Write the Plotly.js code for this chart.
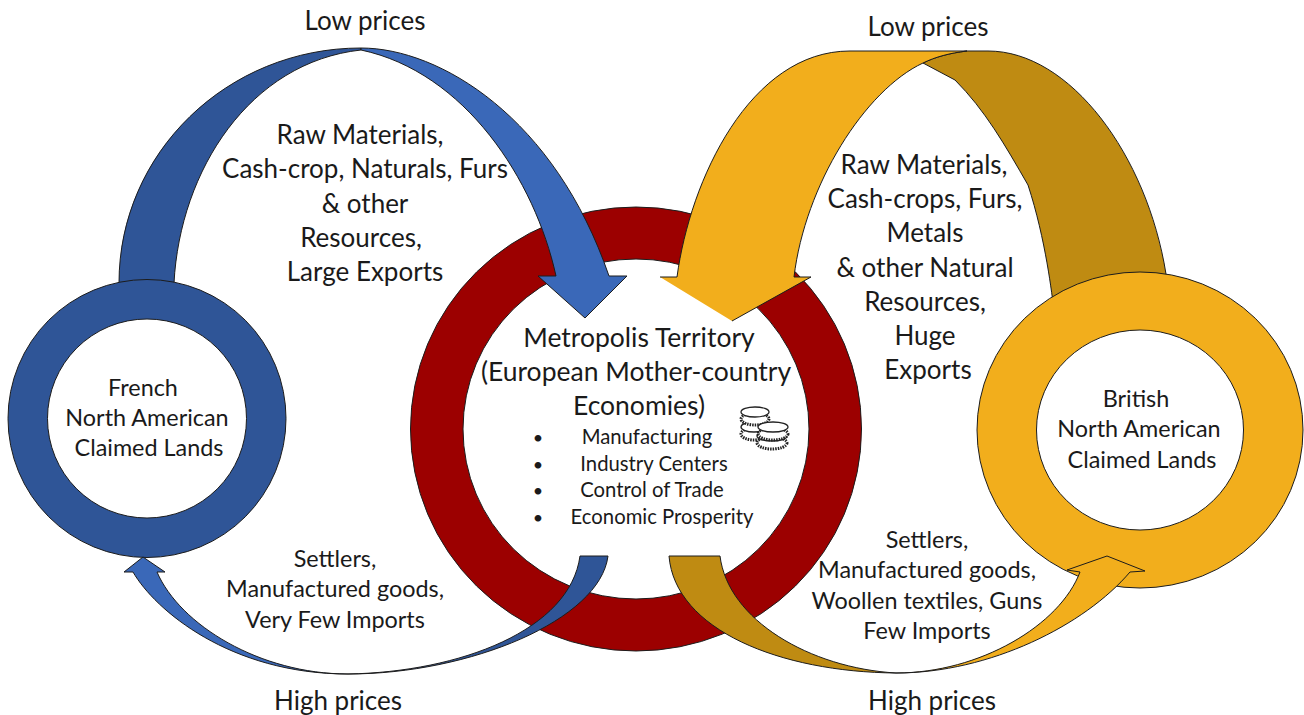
<!DOCTYPE html>
<html><head><meta charset="utf-8">
<script src="https://cdn.plot.ly/plotly-3.0.1.min.js"></script>
<style>html,body{margin:0;padding:0;background:#fff}#c{width:1304px;height:715px}</style>
</head><body><div id="c"></div>
<script>
// Rings: centre x, centre y, outer rx, outer ry, inner rx, inner ry
var ringNames=['Metropolis','French','British'];
var ringCx=[636,147,1140];
var ringCy=[429,418.5,430];
var ringOuterRx=[225.5,139,163];
var ringOuterRy=[222,139,158];
var ringInnerRx=[173,99.5,103.5];
var ringInnerRy=[170,99.5,100];
var ringColors=['#9C0000','#2F5597','#F2AE1C'];

// Arrow outlines. Commands: M and L take one point, C takes three, Z closes.
var blueTopDarkCmd='MCLCLLZ';
var blueTopDarkX=[119, 119,227,361, 361, 250,180,174, 175, 118];
var blueTopDarkY=[283, 153,48,48, 50, 62,170,283, 292, 292];
var blueTopLightCmd='MCLLLLCZ';
var blueTopLightX=[361, 440,555,609, 627, 585, 538, 556, 535,465,361];
var blueTopLightY=[48, 48,118,276, 276, 318, 276, 276, 180,72,50];

var yelTopDarkCmd='MCLCLLCCZ';
var yelTopDarkX=[923, 935,950,967, 988, 1070,1147,1166, 1168, 1054, 1052, 1046,1028,1005, 985,955,923];
var yelTopDarkY=[63, 57,53,51, 51, 51,155,274, 290, 310, 296, 240,185,145, 110,80,63];
var yelTopLightCmd='MLCLCCLLLZ';
var yelTopLightX=[660, 677, 690,750,850, 967, 950,935,923, 865,805,794, 811, 732];
var yelTopLightY=[277, 277, 180,51,51, 51, 53,57,63, 90,185,277, 277, 321];

var blueLowDarkCmd='MLCCZ';
var blueLowDarkX=[580, 608, 600,470,348, 460,570,580];
var blueLowDarkY=[556, 556, 620,674,674, 672,630,556];
var blueLowLightCmd='MCLLLLCZ';
var blueLowLightX=[348, 230,155,133, 124, 143, 165, 157, 180,260,348];
var blueLowLightY=[674, 674,610,572, 572, 557, 572, 572, 625,674,674];

var yelLowDarkCmd='MLCCZ';
var yelLowDarkX=[669, 720, 728,810,896, 780,675,669];
var yelLowDarkY=[556, 556, 620,668,673, 672,630,556];
var yelLowLightCmd='MCLLLLCZ';
var yelLowLightX=[896, 990,1085,1130, 1145, 1107, 1067, 1080, 1060,980,896];
var yelLowLightY=[673, 673,625,572, 571, 556, 570, 572, 625,673,673];

var blueDark='#2F5597', blueLight='#3A68B8', yelLight='#F2AE1C', yelDark='#BF8B12';

// Coins: x, y, rx, ry of each coin, drawn back to front
var coinX=[754,755,772,773];
var coinY=[427,412,436,427];
var coinRx=[13,14,15,15];
var coinRy=[5,5,5,5];

// Labels
var labelText=['Low prices','Low prices','High prices','High prices',
 'Raw Materials,','Cash-crop, Naturals, Furs','& other','Resources,','Large Exports',
 'Raw Materials,','Cash-crops, Furs,','Metals','& other Natural','Resources,','Huge','Exports',
 'French','North American','Claimed Lands',
 'British','North American','Claimed Lands',
 'Metropolis Territory','(European Mother-country','Economies)',
 'Settlers,','Manufactured goods,','Very Few Imports',
 'Settlers,','Manufactured goods,','Woollen textiles, Guns','Few Imports',
 'Manufacturing','Industry Centers','Control of Trade','Economic Prosperity',
 '•','•','•','•'];
var labelX=[365,928,338,932, 360,365,365,361,365, 924,925,925,925,925,925,928, 143,147,149, 1136,1139,1142, 639,636,639, 335,335,335, 927,927,927,927, 647,654,652,662, 538,538,538,538];
var labelY=[23,29,703,703, 137,171,206,240,274, 167,201,235,270,304,338,372, 390,420,450, 401,431,462, 340,374,408, 561,591,622, 542,572,603,633, 439,466,492,519, 439,466,492,519];
var labelSize=[26,26,26,26, 26,26,26,26,26, 26,26,26,26,26,26,26, 23.4,23.4,23.4, 23.4,23.4,23.4, 26.5,26.5,26.5, 23.4,23.4,23.4, 23.4,23.4,23.4,23.4, 20.3,20.3,20.3,20.3, 18,18,18,18];

var EDGE='#1c1c1c';
function pathOf(cmd,x,y){
  var i=0,s='';
  cmd.split('').forEach(function(c){
    if(c==='Z'){s+='Z';return;}
    var n=(c==='C')?3:1,parts=[];
    for(var k=0;k<n;k++,i++){parts.push(x[i]+','+y[i]);}
    s+=c+parts.join(' ')+' ';
  });
  return s;
}
function area(cmd,x,y,col){
  return {type:'path',layer:'below',xref:'x',yref:'y',path:pathOf(cmd,x,y),fillcolor:col,line:{color:EDGE,width:1}};
}
function ellipse(cx,cy,rx,ry,col){
  return {type:'circle',layer:'below',xref:'x',yref:'y',x0:cx-rx,x1:cx+rx,y0:cy-ry,y1:cy+ry,fillcolor:col,line:{color:EDGE,width:1}};
}
function ring(i){
  return [ellipse(ringCx[i],ringCy[i],ringOuterRx[i],ringOuterRy[i],ringColors[i]),
          ellipse(ringCx[i],ringCy[i],ringInnerRx[i],ringInnerRy[i],'#FFFFFF')];
}
var shapes=[].concat(
  ring(0),
  [area(blueTopDarkCmd,blueTopDarkX,blueTopDarkY,blueDark)],
  ring(1),
  [area(blueTopLightCmd,blueTopLightX,blueTopLightY,blueLight),
   area(yelTopDarkCmd,yelTopDarkX,yelTopDarkY,yelDark)],
  ring(2),
  [area(yelTopLightCmd,yelTopLightX,yelTopLightY,yelLight),
   area(blueLowDarkCmd,blueLowDarkX,blueLowDarkY,blueDark),
   area(blueLowLightCmd,blueLowLightX,blueLowLightY,blueLight),
   area(yelLowDarkCmd,yelLowDarkX,yelLowDarkY,yelDark),
   area(yelLowLightCmd,yelLowLightX,yelLowLightY,yelLight)]
);
coinX.forEach(function(cx,i){
  shapes.push({type:'circle',layer:'below',xref:'x',yref:'y',x0:cx-coinRx[i],x1:cx+coinRx[i],y0:coinY[i]+1,y1:coinY[i]+2*coinRy[i]+3,
    fillcolor:'#FFFFFF',line:{color:'#222222',width:3,dash:'1.5px,1px'}});
  shapes.push({type:'circle',layer:'below',xref:'x',yref:'y',x0:cx-coinRx[i],x1:cx+coinRx[i],y0:coinY[i]-coinRy[i],y1:coinY[i]+coinRy[i],
    fillcolor:'#FFFFFF',line:{color:'#222222',width:1.3}});
});

var traces=[{type:'scatter',mode:'text',x:labelX,y:labelY,text:labelText,textposition:'middle center',
  textfont:{family:'Lato, sans-serif',size:labelSize,color:'#1a1a1a'},hoverinfo:'skip',showlegend:false,cliponaxis:false}];

Plotly.newPlot('c',traces,{
  width:1304,height:715,margin:{l:0,r:0,t:0,b:0,pad:0},
  paper_bgcolor:'#FFFFFF',plot_bgcolor:'#FFFFFF',showlegend:false,
  xaxis:{range:[0,1304],visible:false,fixedrange:true},
  yaxis:{range:[715,0],visible:false,fixedrange:true},
  shapes:shapes,hovermode:false
},{displayModeBar:false,staticPlot:true});
</script></body></html>
